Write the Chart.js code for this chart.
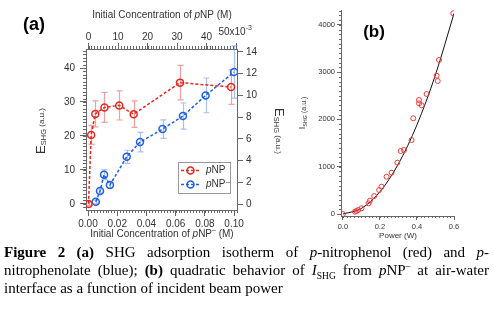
<!DOCTYPE html>
<html>
<head>
<meta charset="utf-8">
<script src="https://cdn.jsdelivr.net/npm/chart.js@4.4.0/dist/chart.umd.min.js"></script>
<style>
body{margin:0;background:#fff;width:493px;height:313px;overflow:hidden;position:relative}
#chartA{position:absolute;left:0;top:0}
#chartB{position:absolute;left:290px;top:0}
.cap{position:absolute;left:4px;top:243px;width:485px;font-family:"Liberation Serif","Times New Roman",serif;font-size:15px;line-height:18px;color:#000}
.j{text-align:justify;text-align-last:justify;white-space:nowrap}
.cap sub,.cap sup{font-size:9.5px;line-height:0}
</style>
</head>
<body>
<canvas id="chartA" width="300" height="250"></canvas>
<canvas id="chartB" width="203" height="250"></canvas>
<div class="cap">
<div class="j"><b>Figure 2 (a)</b> SHG adsorption isotherm of <i>p</i>-nitrophenol (red) and <i>p</i>-</div>
<div class="j">nitrophenolate (blue); <b>(b)</b> quadratic behavior of <i>I</i><sub>SHG</sub> from <i>p</i>NP<sup>–</sup> at air-water</div>
<div>interface as a function of incident beam power</div>
</div>
<script>
// panel (a): pNP on the top axis (x10^-3 M), left axis
const pnpConc = [0, 0.9, 2.3, 5.4, 10.4, 15.3, 31.0, 48.3];
const pnpE = [0, 20.3, 26.5, 28.4, 29.0, 26.4, 35.7, 34.4];
const pnpErr = [0.5, 2.8, 3.8, 4.4, 4.3, 3.9, 5.1, 5.1];

// panel (a): pNP- on the bottom axis (M), right axis
const pnpmConc = [0.0053, 0.0082, 0.011, 0.015, 0.0265, 0.0356, 0.051, 0.065, 0.0805, 0.1];
const pnpmE = [0.2, 1.2, 2.7, 1.75, 4.35, 5.7, 6.9, 8.1, 10.0, 12.15];
const pnpmErr = [0.15, 0.2, 0.45, 0.25, 0.6, 0.9, 0.85, 1.2, 1.6, 2.4];

// panel (b): I_SHG vs power
const powerW = [0, 0.065, 0.074, 0.083, 0.101, 0.139, 0.146, 0.169, 0.196, 0.209, 0.236, 0.263, 0.294, 0.312, 0.33, 0.371, 0.38, 0.411, 0.411, 0.425, 0.452, 0.506, 0.512, 0.519, 0.596];
const ishg = [0, 49, 63, 85, 120, 226, 281, 380, 507, 577, 789, 873, 1085, 1332, 1353, 1564, 2023, 2410, 2340, 2298, 2537, 2924, 2812, 3256, 4243];
// black curve
const fitPower = [0, 0.1, 0.2, 0.3, 0.4, 0.5, 0.6];
const fitIshg = [0, 118, 470, 1060, 1885, 2945, 4240];
const ishgTicks = [0, 1000, 2000, 3000, 4000];

const FONT = '"Liberation Sans", Arial, sans-serif';
const RED = "#e8261f";
const BLUE = "#1f5ee6";
const AXIS = "#666";
const TXT = "#333";

function pts(xs, ys) {
    return xs.map((x, i) => ({ x: x, y: ys[i] }));
}

function fontOf(p) {
    return (p.b ? "bold " : "") + (p.i ? "italic " : "") + (p.s || 10) + "px " + FONT;
}

function richText(ctx, parts, x, y, angle, color) {
    ctx.save();
    ctx.translate(x, y);
    ctx.rotate(angle || 0);
    ctx.textBaseline = "middle";
    ctx.textAlign = "left";
    ctx.fillStyle = color || TXT;
    let w = 0;
    parts.forEach((p) => { ctx.font = fontOf(p); w += ctx.measureText(p.t).width; });
    let cx = -w / 2;
    parts.forEach((p) => {
        ctx.font = fontOf(p);
        ctx.fillText(p.t, cx, p.dy || 0);
        cx += ctx.measureText(p.t).width;
    });
    ctx.restore();
}

function drawMinor(ctx, scale, step, len) {
    ctx.save();
    ctx.strokeStyle = AXIS;
    ctx.lineWidth = 1;
    ctx.beginPath();
    for (let k = Math.ceil(scale.min / step - 1e-9); k * step <= scale.max + 1e-12; k++) {
        const p = Math.round(scale.getPixelForValue(k * step)) + 0.5;
        if (scale.isHorizontal()) {
            const y0 = scale.position === "top" ? scale.bottom : scale.top;
            const dir = scale.position === "top" ? -1 : 1;
            ctx.moveTo(p, y0);
            ctx.lineTo(p, y0 + dir * len);
        } else {
            const x0 = scale.position === "left" ? scale.right : scale.left;
            const dir = scale.position === "left" ? -1 : 1;
            ctx.moveTo(x0, p);
            ctx.lineTo(x0 + dir * len, p);
        }
    }
    ctx.stroke();
    ctx.restore();
}

function drawErrors(chart, dsIndex, errs, color) {
    const meta = chart.getDatasetMeta(dsIndex);
    const ys = chart.scales[meta.yAxisID];
    const data = chart.data.datasets[dsIndex].data;
    const ctx = chart.ctx;
    ctx.save();
    ctx.strokeStyle = color;
    ctx.lineWidth = 1.2;
    ctx.beginPath();
    meta.data.forEach((pt, i) => {
        const x = Math.round(pt.x) + 0.5;
        const top = ys.getPixelForValue(data[i].y + errs[i]);
        const bot = ys.getPixelForValue(data[i].y - errs[i]);
        ctx.moveTo(x, top); ctx.lineTo(x, bot);
        ctx.moveTo(x - 3, top); ctx.lineTo(x + 3, top);
        ctx.moveTo(x - 3, bot); ctx.lineTo(x + 3, bot);
    });
    ctx.stroke();
    ctx.restore();
}

function legendRow(ctx, y, color, label) {
    ctx.save();
    ctx.strokeStyle = color;
    ctx.lineWidth = 1.5;
    ctx.setLineDash([3, 2]);
    ctx.beginPath();
    ctx.moveTo(181, y); ctx.lineTo(200, y);
    ctx.stroke();
    ctx.setLineDash([]);
    ctx.beginPath();
    ctx.arc(190.5, y, 3.5, 0, Math.PI * 2);
    ctx.stroke();
    ctx.restore();
    ctx.save();
    ctx.fillStyle = TXT;
    ctx.textBaseline = "middle";
    ctx.font = "italic 10px " + FONT;
    ctx.fillText("p", 206, y);
    let w = ctx.measureText("p").width;
    ctx.font = "10px " + FONT;
    ctx.fillText("NP", 206 + w, y);
    if (label === "minus") {
        w += ctx.measureText("NP").width;
        ctx.font = "8px " + FONT;
        ctx.fillText("–", 206 + w + 0.5, y - 3);
    }
    ctx.restore();
}

const tickFont = { size: 10, family: FONT };
const gridOpt = { drawOnChartArea: false, tickLength: 6, color: AXIS };
const borderOpt = { color: AXIS, width: 1 };

const panelA = {
    id: "panelA",
    beforeDatasetsDraw(chart) {
        drawErrors(chart, 0, pnpErr, "rgba(236,95,95,0.6)");
        drawErrors(chart, 1, pnpmErr, "rgba(110,150,235,0.6)");
    },
    afterDraw(chart) {
        const ctx = chart.ctx;
        const s = chart.scales;
        drawMinor(ctx, s.x, 0.002, 3);
        drawMinor(ctx, s.x2, 1, 3);
        drawMinor(ctx, s.y, 1, 3);

        const x50 = s.x2.getPixelForValue(50);
        richText(ctx, [{ t: "50x10" }, { t: "-3", s: 7, dy: -4 }], x50 - 1, 32);

        richText(ctx, [{ t: "Initial Concentration of " }, { t: "p", i: true }, { t: "NP (M)" }], 162, 15);
        richText(ctx, [{ t: "Initial Concentration of " }, { t: "p", i: true }, { t: "NP" }, { t: "–", s: 7, dy: -4 }, { t: " (M)" }], 162, 234);
        richText(ctx, [{ t: "E", s: 13 }, { t: "SHG", s: 7.5, dy: 3 }, { t: " (a.u.)", s: 8, dy: 1 }], 41, 131, -Math.PI / 2);
        richText(ctx, [{ t: "E", s: 13 }, { t: "SHG", s: 7.5, dy: 3 }, { t: " (a.u.)", s: 8, dy: 1 }], 279, 131, Math.PI / 2);
        richText(ctx, [{ t: "(a)", s: 18, b: true }], 34, 25, 0, "#000");

        ctx.save();
        ctx.strokeStyle = "#999";
        ctx.lineWidth = 1;
        ctx.fillStyle = "#fff";
        ctx.fillRect(178.5, 162.5, 52, 31);
        ctx.strokeRect(178.5, 162.5, 52, 31);
        ctx.restore();
        legendRow(ctx, 170.5, RED, "plain");
        legendRow(ctx, 184.5, BLUE, "minus");
    }
};

new Chart(document.getElementById("chartA"), {
    type: "scatter",
    data: {
        datasets: [{
            label: "pNP",
            data: pts(pnpConc, pnpE),
            xAxisID: "x2",
            yAxisID: "y",
            showLine: true,
            borderColor: RED,
            borderWidth: 1.5,
            borderDash: [3, 2],
            pointRadius: 3.5,
            pointBorderWidth: 1.5,
            pointBorderColor: RED,
            pointBackgroundColor: "rgba(0,0,0,0)"
        }, {
            label: "pNP-",
            data: pts(pnpmConc, pnpmE),
            xAxisID: "x",
            yAxisID: "y2",
            showLine: true,
            borderColor: BLUE,
            borderWidth: 1.5,
            borderDash: [3, 2],
            pointRadius: 3.5,
            pointBorderWidth: 1.5,
            pointBorderColor: BLUE,
            pointBackgroundColor: "rgba(0,0,0,0)"
        }]
    },
    options: {
        responsive: false,
        animation: false,
        plugins: { legend: { display: false }, tooltip: { enabled: false } },
        scales: {
            x: {
                type: "linear", position: "bottom", min: -0.00137, max: 0.102,
                ticks: { stepSize: 0.02, includeBounds: false, autoSkip: false, maxRotation: 0, padding: 2, color: TXT, font: tickFont, callback: (v) => v.toFixed(2) },
                grid: gridOpt, border: borderOpt,
                afterFit: (sc) => { sc.height = 40; }
            },
            x2: {
                type: "linear", position: "top", min: -0.85, max: 50.3,
                ticks: { stepSize: 10, includeBounds: false, autoSkip: false, maxRotation: 0, padding: 0, color: TXT, font: tickFont, callback: (v) => (v === 50 ? "" : v) },
                grid: gridOpt, border: borderOpt,
                afterFit: (sc) => { sc.height = 49; }
            },
            y: {
                type: "linear", position: "left", min: -1.8, max: 45.6,
                ticks: { stepSize: 10, includeBounds: false, padding: 5, color: TXT, font: tickFont },
                grid: gridOpt, border: borderOpt,
                afterFit: (sc) => { sc.width = 86; }
            },
            y2: {
                type: "linear", position: "right", min: -0.55, max: 14.27,
                ticks: { stepSize: 2, includeBounds: false, padding: 3, color: TXT, font: tickFont },
                grid: gridOpt, border: borderOpt,
                afterFit: (sc) => { sc.width = 63; }
            }
        }
    },
    plugins: [panelA]
});

const smallFont = { size: 7.5, family: FONT };

const panelB = {
    id: "panelB",
    afterDraw(chart) {
        const ctx = chart.ctx;
        drawMinor(ctx, chart.scales.x, 0.02, 2);
        drawMinor(ctx, chart.scales.y, 100, 2);
        richText(ctx, [{ t: "I", s: 9 }, { t: "SHG", s: 5.5, dy: 2 }, { t: " (a.u.)", s: 7, dy: 1 }], 13, 113, -Math.PI / 2);
        richText(ctx, [{ t: "Power (W)", s: 8 }], 108, 236);
        richText(ctx, [{ t: "(b)", s: 17, b: true }], 84, 32, 0, "#000");
    }
};

new Chart(document.getElementById("chartB"), {
    type: "scatter",
    data: {
        datasets: [{
            label: "ISHG",
            data: pts(powerW, ishg),
            pointRadius: 2.5,
            pointBorderWidth: 1,
            pointBorderColor: "#f03a3a",
            pointBackgroundColor: "rgba(0,0,0,0)"
        }, {
            label: "fit",
            data: pts(fitPower, fitIshg),
            showLine: true,
            cubicInterpolationMode: "monotone",
            borderColor: "#111",
            borderWidth: 1,
            pointRadius: 0
        }]
    },
    options: {
        responsive: false,
        animation: false,
        layout: { padding: { top: 10, right: 39 } },
        plugins: { legend: { display: false }, tooltip: { enabled: false } },
        scales: {
            x: {
                type: "linear", min: -0.01, max: 0.6,
                ticks: { stepSize: 0.2, includeBounds: false, autoSkip: false, maxRotation: 0, padding: 2, color: TXT, font: smallFont, callback: (v) => v.toFixed(1) },
                grid: { drawOnChartArea: false, tickLength: 4, color: AXIS }, border: borderOpt,
                afterFit: (sc) => { sc.height = 34; }
            },
            y: {
                type: "linear", min: -42, max: 4313,
                afterBuildTicks: (sc) => { sc.ticks = ishgTicks.map((v) => ({ value: v })); },
                ticks: { autoSkip: false, padding: 2, color: TXT, font: smallFont, callback: (v) => String(v) },
                grid: { drawOnChartArea: false, tickLength: 4, color: AXIS }, border: borderOpt,
                afterFit: (sc) => { sc.width = 51; }
            }
        }
    },
    plugins: [panelB]
});
</script>
</body>
</html>
